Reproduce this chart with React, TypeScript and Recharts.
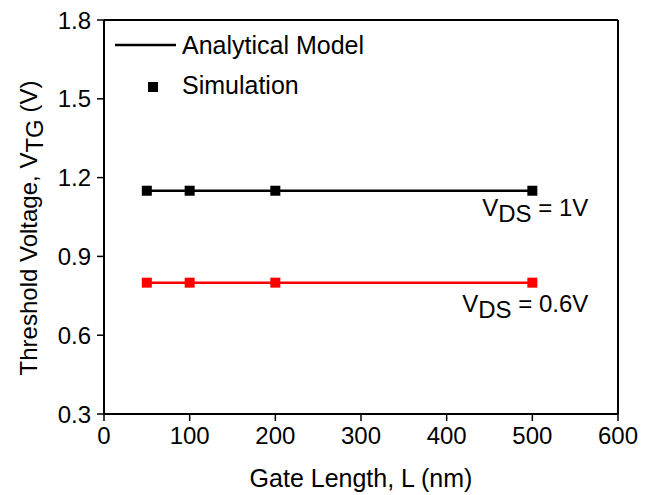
import React from "react";
import {
  LineChart,
  Line,
  XAxis,
  YAxis,
  Legend,
  ReferenceDot,
} from "recharts";

const gateLengths = [50, 100, 200, 500];
const modelVds1 = [1.15, 1.15, 1.15, 1.15];
const simVds1 = [1.15, 1.15, 1.15, 1.15];
const modelVds06 = [0.8, 0.8, 0.8, 0.8];
const simVds06 = [0.8, 0.8, 0.8, 0.8];

const xTicks = [0, 100, 200, 300, 400, 500, 600];
const xMinorTicks = [50, 150, 250, 350, 450, 550];
const xAllTicks = [0, 50, 100, 150, 200, 250, 300, 350, 400, 450, 500, 550, 600];
const yTicks = [0.3, 0.6, 0.9, 1.2, 1.5, 1.8];
const yMinorTicks = [0.45, 0.75, 1.05, 1.35, 1.65];
const yAllTicks = [0.3, 0.45, 0.6, 0.75, 0.9, 1.05, 1.2, 1.35, 1.5, 1.65, 1.8];

const data = gateLengths.map((x, i) => ({
  x,
  m1: modelVds1[i],
  s1: simVds1[i],
  m06: modelVds06[i],
  s06: simVds06[i],
}));

const FONT = "'Liberation Sans', Arial, sans-serif";
const RED = "#ff0000";

const squareDot = (color: string) => (props: any) => {
  const { cx, cy, index } = props;
  if (cx == null || cy == null) return <g key={index} />;
  return <rect key={index} x={cx - 5} y={cy - 5} width={10} height={10} fill={color} />;
};

const YTitle = (props: any) => {
  const vb = props.viewBox || {};
  const cx = 28;
  const cy = vb.y + vb.height / 2 + 11;
  return (
    <text
      x={cx}
      y={cy}
      transform={`rotate(-90 ${cx} ${cy})`}
      textAnchor="middle"
      dominantBaseline="central"
      fontFamily={FONT}
      fontSize={24}
      fill="#000"
    >
      <tspan>Threshold Voltage, V</tspan>
      <tspan dy={6}>TG</tspan>
      <tspan dy={-6}> (V)</tspan>
    </text>
  );
};

const XTitle = (props: any) => {
  const vb = props.viewBox || {};
  return (
    <text
      x={vb.x + vb.width / 2}
      y={487}
      textAnchor="middle"
      fontFamily={FONT}
      fontSize={25}
      fill="#000"
    >
      Gate Length, L (nm)
    </text>
  );
};

const VdsLabel = (text: string, dy: number) => (props: any) => {
  const vb = props.viewBox || {};
  const x = vb.x + (vb.width || 0) / 2 + 56;
  const y = vb.y + (vb.height || 0) / 2 + dy;
  return (
    <text x={x} y={y} textAnchor="end" fontFamily={FONT} fontSize={24} fill="#000">
      <tspan>V</tspan>
      <tspan dy={6}>DS</tspan>
      <tspan dy={-6}>{text}</tspan>
    </text>
  );
};

const LegendContent = () => (
  <svg width={320} height={70}>
    <line x1={5} y1={16} x2={66} y2={16} stroke="#000" strokeWidth={2.5} />
    <text x={72} y={16} dominantBaseline="central" fontFamily={FONT} fontSize={25} fill="#000">
      Analytical Model
    </text>
    <rect x={38} y={53} width={10} height={10} fill="#000" />
    <text x={72} y={56} dominantBaseline="central" fontFamily={FONT} fontSize={25} fill="#000">
      Simulation
    </text>
  </svg>
);

const tickStyle = { fontSize: 24, fill: "#000", fontFamily: FONT };

export default function App() {
  return (
    <div style={{ position: "absolute", left: 0, top: 0, background: "#fff" }}>
      <LineChart
        width={649}
        height={495}
        data={data}
        margin={{ top: 20, right: 31, left: 0, bottom: 0 }}
      >
        <XAxis
          xAxisId="main"
          type="number"
          dataKey="x"
          domain={[0, 600]}
          ticks={xTicks}
          height={81}
          tickSize={7}
          tickMargin={6}
          tick={tickStyle}
          axisLine={{ stroke: "#000", strokeWidth: 2 }}
          tickLine={{ stroke: "#000", strokeWidth: 1.5 }}
          label={<XTitle />}
        />
        <XAxis
          xAxisId="bminor"
          type="number"
          dataKey="x"
          orientation="bottom"
          domain={[0, 600]}
          ticks={xMinorTicks}
          mirror
          height={1}
          axisLine={false}
          tick={false}
          tickSize={4}
          tickLine={{ stroke: "#000", strokeWidth: 1.5 }}
        />
        <XAxis
          xAxisId="top"
          type="number"
          dataKey="x"
          orientation="top"
          domain={[0, 600]}
          ticks={xAllTicks}
          mirror
          height={1}
          tick={false}
          tickSize={4}
          axisLine={{ stroke: "#000", strokeWidth: 2 }}
          tickLine={{ stroke: "#000", strokeWidth: 1.5 }}
        />
        <YAxis
          yAxisId="main"
          type="number"
          domain={[0.3, 1.8]}
          ticks={yTicks}
          width={104}
          tickSize={7}
          tickMargin={6}
          tick={tickStyle}
          tickFormatter={(v: number) => v.toFixed(1)}
          axisLine={{ stroke: "#000", strokeWidth: 2 }}
          tickLine={{ stroke: "#000", strokeWidth: 1.5 }}
          label={<YTitle />}
        />
        <YAxis
          yAxisId="lminor"
          type="number"
          domain={[0.3, 1.8]}
          ticks={yMinorTicks}
          mirror
          width={1}
          axisLine={false}
          tick={false}
          tickSize={4}
          tickLine={{ stroke: "#000", strokeWidth: 1.5 }}
        />
        <YAxis
          yAxisId="right"
          type="number"
          orientation="right"
          domain={[0.3, 1.8]}
          ticks={yAllTicks}
          mirror
          width={1}
          tick={false}
          tickSize={4}
          axisLine={{ stroke: "#000", strokeWidth: 2 }}
          tickLine={{ stroke: "#000", strokeWidth: 1.5 }}
        />
        <Legend
          verticalAlign="middle"
          align="center"
          layout="horizontal"
          content={<LegendContent />}
          wrapperStyle={{ left: 110, top: 29, width: 320 }}
        />
        <Line
          xAxisId="main"
          yAxisId="main"
          dataKey="m1"
          stroke="#000"
          strokeWidth={2.5}
          dot={false}
          isAnimationActive={false}
          legendType="none"
        />
        <Line
          xAxisId="main"
          yAxisId="main"
          dataKey="s1"
          stroke="none"
          dot={squareDot("#000")}
          activeDot={false}
          isAnimationActive={false}
          legendType="none"
        />
        <Line
          xAxisId="main"
          yAxisId="main"
          dataKey="m06"
          stroke={RED}
          strokeWidth={2.5}
          dot={false}
          isAnimationActive={false}
          legendType="none"
        />
        <Line
          xAxisId="main"
          yAxisId="main"
          dataKey="s06"
          stroke="none"
          dot={squareDot(RED)}
          activeDot={false}
          isAnimationActive={false}
          legendType="none"
        />
        <ReferenceDot
          xAxisId="main"
          yAxisId="main"
          x={500}
          y={simVds1[3]}
          r={0}
          fill="none"
          stroke="none"
          label={VdsLabel(" = 1V", 25)}
        />
        <ReferenceDot
          xAxisId="main"
          yAxisId="main"
          x={500}
          y={simVds06[3]}
          r={0}
          fill="none"
          stroke="none"
          label={VdsLabel(" = 0.6V", 29)}
        />
      </LineChart>
    </div>
  );
}
